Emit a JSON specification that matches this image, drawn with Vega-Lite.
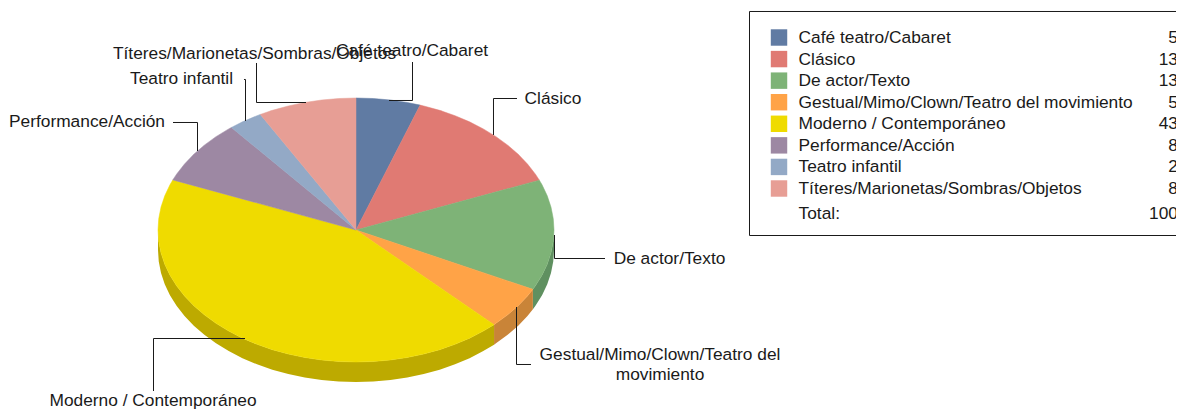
{
"$schema":"https://vega.github.io/schema/vega-lite/v6.json",
"width":1194,"height":410,
"autosize":{"type":"fit","contains":"padding"},
"padding":{"left":0,"top":0,"right":18,"bottom":0},
"background":"white",
"config":{"view":{"stroke":null},"text":{"font":"Liberation Sans","fontSize":17.33,"color":"#1a1a1a","dy":1}},
"datasets":{
"slices":[
{"name":"Café teatro/Cabaret","pct":5},
{"name":"Clásico","pct":13},
{"name":"De actor/Texto","pct":13},
{"name":"Gestual/Mimo/Clown/Teatro del movimiento","pct":5},
{"name":"Moderno / Contemporáneo","pct":43},
{"name":"Performance/Acción","pct":8},
{"name":"Teatro infantil","pct":2},
{"name":"Títeres/Marionetas/Sombras/Objetos","pct":8}
],
"rim":[
{"s":"De actor/Texto","x":1,"y":0,"y2":-0.1515},{"s":"De actor/Texto","x":0.9962,"y":-0.0872,"y2":-0.2387},{"s":"De actor/Texto","x":0.9848,"y":-0.1736,"y2":-0.3251},{"s":"De actor/Texto","x":0.9659,"y":-0.2588,"y2":-0.4103},{"s":"De actor/Texto","x":0.9397,"y":-0.342,"y2":-0.4935},{"s":"De actor/Texto","x":0.9063,"y":-0.4226,"y2":-0.5741},{"s":"De actor/Texto","x":0.8934,"y":-0.4493,"y2":-0.6008},
{"s":"Gestual/Mimo/Clown/Teatro del movimiento","x":0.8934,"y":-0.4493,"y2":-0.6008},{"s":"Gestual/Mimo/Clown/Teatro del movimiento","x":0.866,"y":-0.5,"y2":-0.6515},{"s":"Gestual/Mimo/Clown/Teatro del movimiento","x":0.8192,"y":-0.5736,"y2":-0.7251},{"s":"Gestual/Mimo/Clown/Teatro del movimiento","x":0.766,"y":-0.6428,"y2":-0.7943},{"s":"Gestual/Mimo/Clown/Teatro del movimiento","x":0.7071,"y":-0.7071,"y2":-0.8586},{"s":"Gestual/Mimo/Clown/Teatro del movimiento","x":0.6972,"y":-0.7169,"y2":-0.8684},
{"s":"Moderno / Contemporáneo","x":0.6972,"y":-0.7169,"y2":-0.8684},{"s":"Moderno / Contemporáneo","x":0.6428,"y":-0.766,"y2":-0.9175},{"s":"Moderno / Contemporáneo","x":0.5736,"y":-0.8192,"y2":-0.9707},{"s":"Moderno / Contemporáneo","x":0.5,"y":-0.866,"y2":-1.0175},{"s":"Moderno / Contemporáneo","x":0.4226,"y":-0.9063,"y2":-1.0578},{"s":"Moderno / Contemporáneo","x":0.342,"y":-0.9397,"y2":-1.0912},{"s":"Moderno / Contemporáneo","x":0.2588,"y":-0.9659,"y2":-1.1174},{"s":"Moderno / Contemporáneo","x":0.1736,"y":-0.9848,"y2":-1.1363},{"s":"Moderno / Contemporáneo","x":0.0872,"y":-0.9962,"y2":-1.1477},{"s":"Moderno / Contemporáneo","x":0,"y":-1,"y2":-1.1515},{"s":"Moderno / Contemporáneo","x":-0.0872,"y":-0.9962,"y2":-1.1477},{"s":"Moderno / Contemporáneo","x":-0.1736,"y":-0.9848,"y2":-1.1363},{"s":"Moderno / Contemporáneo","x":-0.2588,"y":-0.9659,"y2":-1.1174},{"s":"Moderno / Contemporáneo","x":-0.342,"y":-0.9397,"y2":-1.0912},{"s":"Moderno / Contemporáneo","x":-0.4226,"y":-0.9063,"y2":-1.0578},{"s":"Moderno / Contemporáneo","x":-0.5,"y":-0.866,"y2":-1.0175},{"s":"Moderno / Contemporáneo","x":-0.5736,"y":-0.8192,"y2":-0.9707},{"s":"Moderno / Contemporáneo","x":-0.6428,"y":-0.766,"y2":-0.9175},{"s":"Moderno / Contemporáneo","x":-0.7071,"y":-0.7071,"y2":-0.8586},{"s":"Moderno / Contemporáneo","x":-0.766,"y":-0.6428,"y2":-0.7943},{"s":"Moderno / Contemporáneo","x":-0.8192,"y":-0.5736,"y2":-0.7251},{"s":"Moderno / Contemporáneo","x":-0.866,"y":-0.5,"y2":-0.6515},{"s":"Moderno / Contemporáneo","x":-0.9063,"y":-0.4226,"y2":-0.5741},{"s":"Moderno / Contemporáneo","x":-0.9397,"y":-0.342,"y2":-0.4935},{"s":"Moderno / Contemporáneo","x":-0.9659,"y":-0.2588,"y2":-0.4103},{"s":"Moderno / Contemporáneo","x":-0.9848,"y":-0.1736,"y2":-0.3251},{"s":"Moderno / Contemporáneo","x":-0.9962,"y":-0.0872,"y2":-0.2387},{"s":"Moderno / Contemporáneo","x":-1,"y":0,"y2":-0.1515}
],
"outline":[
{"s":"Café teatro/Cabaret","i":0,"x":0,"y":0},{"s":"Café teatro/Cabaret","i":1,"x":0,"y":1},{"s":"Café teatro/Cabaret","i":2,"x":0.0872,"y":0.9962},{"s":"Café teatro/Cabaret","i":3,"x":0.1736,"y":0.9848},{"s":"Café teatro/Cabaret","i":4,"x":0.2588,"y":0.9659},{"s":"Café teatro/Cabaret","i":5,"x":0.3239,"y":0.9461},{"s":"Café teatro/Cabaret","i":6,"x":0,"y":0},
{"s":"Clásico","i":0,"x":0,"y":0},{"s":"Clásico","i":1,"x":0.3239,"y":0.9461},{"s":"Clásico","i":2,"x":0.342,"y":0.9397},{"s":"Clásico","i":3,"x":0.4226,"y":0.9063},{"s":"Clásico","i":4,"x":0.5,"y":0.866},{"s":"Clásico","i":5,"x":0.5736,"y":0.8192},{"s":"Clásico","i":6,"x":0.6428,"y":0.766},{"s":"Clásico","i":7,"x":0.7071,"y":0.7071},{"s":"Clásico","i":8,"x":0.766,"y":0.6428},{"s":"Clásico","i":9,"x":0.8192,"y":0.5736},{"s":"Clásico","i":10,"x":0.866,"y":0.5},{"s":"Clásico","i":11,"x":0.9063,"y":0.4226},{"s":"Clásico","i":12,"x":0.9259,"y":0.3778},{"s":"Clásico","i":13,"x":0,"y":0},
{"s":"De actor/Texto","i":0,"x":0,"y":0},{"s":"De actor/Texto","i":1,"x":0.9259,"y":0.3778},{"s":"De actor/Texto","i":2,"x":0.9397,"y":0.342},{"s":"De actor/Texto","i":3,"x":0.9659,"y":0.2588},{"s":"De actor/Texto","i":4,"x":0.9848,"y":0.1736},{"s":"De actor/Texto","i":5,"x":0.9962,"y":0.0872},{"s":"De actor/Texto","i":6,"x":1,"y":0},{"s":"De actor/Texto","i":7,"x":0.9962,"y":-0.0872},{"s":"De actor/Texto","i":8,"x":0.9848,"y":-0.1736},{"s":"De actor/Texto","i":9,"x":0.9659,"y":-0.2588},{"s":"De actor/Texto","i":10,"x":0.9397,"y":-0.342},{"s":"De actor/Texto","i":11,"x":0.9063,"y":-0.4226},{"s":"De actor/Texto","i":12,"x":0.8934,"y":-0.4493},{"s":"De actor/Texto","i":13,"x":0,"y":0},
{"s":"Gestual/Mimo/Clown/Teatro del movimiento","i":0,"x":0,"y":0},{"s":"Gestual/Mimo/Clown/Teatro del movimiento","i":1,"x":0.8934,"y":-0.4493},{"s":"Gestual/Mimo/Clown/Teatro del movimiento","i":2,"x":0.866,"y":-0.5},{"s":"Gestual/Mimo/Clown/Teatro del movimiento","i":3,"x":0.8192,"y":-0.5736},{"s":"Gestual/Mimo/Clown/Teatro del movimiento","i":4,"x":0.766,"y":-0.6428},{"s":"Gestual/Mimo/Clown/Teatro del movimiento","i":5,"x":0.7071,"y":-0.7071},{"s":"Gestual/Mimo/Clown/Teatro del movimiento","i":6,"x":0.6972,"y":-0.7169},{"s":"Gestual/Mimo/Clown/Teatro del movimiento","i":7,"x":0,"y":0},
{"s":"Moderno / Contemporáneo","i":0,"x":0,"y":0},{"s":"Moderno / Contemporáneo","i":1,"x":0.6972,"y":-0.7169},{"s":"Moderno / Contemporáneo","i":2,"x":0.6428,"y":-0.766},{"s":"Moderno / Contemporáneo","i":3,"x":0.5736,"y":-0.8192},{"s":"Moderno / Contemporáneo","i":4,"x":0.5,"y":-0.866},{"s":"Moderno / Contemporáneo","i":5,"x":0.4226,"y":-0.9063},{"s":"Moderno / Contemporáneo","i":6,"x":0.342,"y":-0.9397},{"s":"Moderno / Contemporáneo","i":7,"x":0.2588,"y":-0.9659},{"s":"Moderno / Contemporáneo","i":8,"x":0.1736,"y":-0.9848},{"s":"Moderno / Contemporáneo","i":9,"x":0.0872,"y":-0.9962},{"s":"Moderno / Contemporáneo","i":10,"x":0,"y":-1},{"s":"Moderno / Contemporáneo","i":11,"x":-0.0872,"y":-0.9962},{"s":"Moderno / Contemporáneo","i":12,"x":-0.1736,"y":-0.9848},{"s":"Moderno / Contemporáneo","i":13,"x":-0.2588,"y":-0.9659},{"s":"Moderno / Contemporáneo","i":14,"x":-0.342,"y":-0.9397},{"s":"Moderno / Contemporáneo","i":15,"x":-0.4226,"y":-0.9063},{"s":"Moderno / Contemporáneo","i":16,"x":-0.5,"y":-0.866},{"s":"Moderno / Contemporáneo","i":17,"x":-0.5736,"y":-0.8192},{"s":"Moderno / Contemporáneo","i":18,"x":-0.6428,"y":-0.766},{"s":"Moderno / Contemporáneo","i":19,"x":-0.7071,"y":-0.7071},{"s":"Moderno / Contemporáneo","i":20,"x":-0.766,"y":-0.6428},{"s":"Moderno / Contemporáneo","i":21,"x":-0.8192,"y":-0.5736},{"s":"Moderno / Contemporáneo","i":22,"x":-0.866,"y":-0.5},{"s":"Moderno / Contemporáneo","i":23,"x":-0.9063,"y":-0.4226},{"s":"Moderno / Contemporáneo","i":24,"x":-0.9397,"y":-0.342},{"s":"Moderno / Contemporáneo","i":25,"x":-0.9659,"y":-0.2588},{"s":"Moderno / Contemporáneo","i":26,"x":-0.9848,"y":-0.1736},{"s":"Moderno / Contemporáneo","i":27,"x":-0.9962,"y":-0.0872},{"s":"Moderno / Contemporáneo","i":28,"x":-1,"y":0},{"s":"Moderno / Contemporáneo","i":29,"x":-0.9962,"y":0.0872},{"s":"Moderno / Contemporáneo","i":30,"x":-0.9848,"y":0.1736},{"s":"Moderno / Contemporáneo","i":31,"x":-0.9659,"y":0.2588},{"s":"Moderno / Contemporáneo","i":32,"x":-0.9397,"y":0.342},{"s":"Moderno / Contemporáneo","i":33,"x":-0.9252,"y":0.3795},{"s":"Moderno / Contemporáneo","i":34,"x":0,"y":0},
{"s":"Performance/Acción","i":0,"x":0,"y":0},{"s":"Performance/Acción","i":1,"x":-0.9252,"y":0.3795},{"s":"Performance/Acción","i":2,"x":-0.9063,"y":0.4226},{"s":"Performance/Acción","i":3,"x":-0.866,"y":0.5},{"s":"Performance/Acción","i":4,"x":-0.8192,"y":0.5736},{"s":"Performance/Acción","i":5,"x":-0.766,"y":0.6428},{"s":"Performance/Acción","i":6,"x":-0.7071,"y":0.7071},{"s":"Performance/Acción","i":7,"x":-0.6428,"y":0.766},{"s":"Performance/Acción","i":8,"x":-0.6293,"y":0.7771},{"s":"Performance/Acción","i":9,"x":0,"y":0},
{"s":"Teatro infantil","i":0,"x":0,"y":0},{"s":"Teatro infantil","i":1,"x":-0.6293,"y":0.7771},{"s":"Teatro infantil","i":2,"x":-0.5736,"y":0.8192},{"s":"Teatro infantil","i":3,"x":-0.5,"y":0.866},{"s":"Teatro infantil","i":4,"x":-0.4833,"y":0.8755},{"s":"Teatro infantil","i":5,"x":0,"y":0},
{"s":"Títeres/Marionetas/Sombras/Objetos","i":0,"x":0,"y":0},{"s":"Títeres/Marionetas/Sombras/Objetos","i":1,"x":-0.4833,"y":0.8755},{"s":"Títeres/Marionetas/Sombras/Objetos","i":2,"x":-0.4226,"y":0.9063},{"s":"Títeres/Marionetas/Sombras/Objetos","i":3,"x":-0.342,"y":0.9397},{"s":"Títeres/Marionetas/Sombras/Objetos","i":4,"x":-0.2588,"y":0.9659},{"s":"Títeres/Marionetas/Sombras/Objetos","i":5,"x":-0.1736,"y":0.9848},{"s":"Títeres/Marionetas/Sombras/Objetos","i":6,"x":-0.0872,"y":0.9962},{"s":"Títeres/Marionetas/Sombras/Objetos","i":7,"x":0,"y":1},{"s":"Títeres/Marionetas/Sombras/Objetos","i":8,"x":0,"y":0}
],
"leaders":[
{"s":"Café","i":0,"x":0.2854,"y":1.2727},{"s":"Café","i":1,"x":0.2854,"y":0.9811},{"s":"Café","i":2,"x":0.1667,"y":0.9811},
{"s":"Clásico","i":0,"x":0.8131,"y":0.9962},{"s":"Clásico","i":1,"x":0.6944,"y":0.9962},{"s":"Clásico","i":2,"x":0.6944,"y":0.7197},
{"s":"De actor","i":0,"x":1.0025,"y":-0.0379},{"s":"De actor","i":1,"x":1.0025,"y":-0.2159},{"s":"De actor","i":2,"x":1.2576,"y":-0.2159},
{"s":"Gestual","i":0,"x":0.8106,"y":-0.5833},{"s":"Gestual","i":1,"x":0.8106,"y":-1.0189},{"s":"Gestual","i":2,"x":0.8838,"y":-1.0189},
{"s":"Moderno","i":0,"x":-0.5606,"y":-0.822},{"s":"Moderno","i":1,"x":-1.0227,"y":-0.822},{"s":"Moderno","i":2,"x":-1.0227,"y":-1.2197},
{"s":"Performance","i":0,"x":-0.9242,"y":0.8144},{"s":"Performance","i":1,"x":-0.8005,"y":0.8144},{"s":"Performance","i":2,"x":-0.8005,"y":0.5985},
{"s":"Teatro","i":0,"x":-0.5657,"y":1.1402},{"s":"Teatro","i":1,"x":-0.5581,"y":1.1402},{"s":"Teatro","i":2,"x":-0.5581,"y":0.8258},
{"s":"Títeres","i":0,"x":-0.5025,"y":1.2652},{"s":"Títeres","i":1,"x":-0.5025,"y":0.9659},{"s":"Títeres","i":2,"x":-0.2525,"y":0.9659}
],
"labels":[
{"t":"Títeres/Marionetas/Sombras/Objetos","x":-0.5126,"y":1.3409},
{"t":"Café teatro/Cabaret","x":0.2828,"y":1.3636},
{"t":"Clásico","x":0.9949,"y":1.0},
{"t":"De actor/Texto","x":1.5833,"y":-0.2121},
{"t":"Gestual/Mimo/Clown/Teatro del\nmovimiento","x":1.5354,"y":-0.9394},
{"t":"Moderno / Contemporáneo","x":-1.0253,"y":-1.2879},
{"t":"Performance/Acción","x":-1.3586,"y":0.8258},
{"t":"Teatro infantil","x":-0.8813,"y":1.1515}
],
"total":[{"name":"Total:","pct":100}]
},
"resolve":{"scale":{"y":"independent","fill":"independent","stroke":"independent"}},
"layer":[
{"data":{"name":"rim"},
 "mark":{"type":"area","strokeWidth":0.5},
 "encoding":{
  "x":{"field":"x","type":"quantitative","axis":null,"scale":{"domain":[-1.798,4.1414],"nice":false,"zero":false}},
  "y":{"field":"y","type":"quantitative","axis":null,"stack":null,"scale":{"domain":[-1.3636,1.7424],"nice":false,"zero":false}},
  "y2":{"field":"y2"},
  "fill":{"field":"s","type":"nominal","legend":null,"scale":{"domain":["De actor/Texto","Gestual/Mimo/Clown/Teatro del movimiento","Moderno / Contemporáneo"],"range":["#5F9060","#C98438","#BDAA00"]}}
 }},
{"data":{"name":"outline"},
 "mark":{"type":"line","strokeWidth":0.5},
 "encoding":{
  "x":{"field":"x","type":"quantitative","axis":null},
  "y":{"field":"y","type":"quantitative","axis":null,"scale":{"domain":[-1.3636,1.7424],"nice":false,"zero":false}},
  "order":{"field":"i"},
  "fill":{"field":"s","type":"nominal","legend":null,"scale":{"domain":["Café teatro/Cabaret","Clásico","De actor/Texto","Gestual/Mimo/Clown/Teatro del movimiento","Moderno / Contemporáneo","Performance/Acción","Teatro infantil","Títeres/Marionetas/Sombras/Objetos"],"range":["#607BA3","#E07A73","#7EB377","#FFA347","#EFDB00","#9D88A3","#93A9C6","#E79E95"]}},
  "stroke":{"field":"s","type":"nominal","legend":null,"scale":{"domain":["Café teatro/Cabaret","Clásico","De actor/Texto","Gestual/Mimo/Clown/Teatro del movimiento","Moderno / Contemporáneo","Performance/Acción","Teatro infantil","Títeres/Marionetas/Sombras/Objetos"],"range":["#607BA3","#E07A73","#7EB377","#FFA347","#EFDB00","#9D88A3","#93A9C6","#E79E95"]}}
 }},
{"data":{"name":"leaders"},
 "mark":{"type":"line","stroke":"#1a1a1a","strokeWidth":1},
 "encoding":{
  "x":{"field":"x","type":"quantitative","axis":null},
  "y":{"field":"y","type":"quantitative","axis":null,"scale":{"domain":[-1.3636,1.7424],"nice":false,"zero":false}},
  "order":{"field":"i"},
  "detail":{"field":"s"}
 }},
{"data":{"name":"labels"},
 "mark":{"type":"text","align":"center","baseline":"middle","lineBreak":"\n","lineHeight":20},
 "encoding":{
  "x":{"field":"x","type":"quantitative","axis":null},
  "y":{"field":"y","type":"quantitative","axis":null,"scale":{"domain":[-1.3636,1.7424],"nice":false,"zero":false}},
  "text":{"field":"t"}
 }},
{"data":{"values":[{"k":"box"}]},
 "mark":{"type":"rect","fill":"white","stroke":"#1a1a1a","strokeWidth":1,"clip":true},
 "encoding":{
  "x":{"datum":1.9874,"type":"quantitative","axis":null},
  "x2":{"datum":5},
  "y":{"datum":1.6553,"type":"quantitative","axis":null,"scale":{"domain":[-1.3636,1.7424],"nice":false,"zero":false}},
  "y2":{"datum":-0.0417}
 }},
{"data":{"name":"slices"},
 "mark":{"type":"point","shape":"square","filled":true,"size":270,"opacity":1},
 "encoding":{
  "x":{"datum":2.1364,"type":"quantitative","axis":null},
  "y":{"field":"name","type":"nominal","axis":null,"sort":null,"scale":{"type":"point","range":[37.5,188.5],"padding":0}},
  "fill":{"field":"name","type":"nominal","legend":null,"scale":{"domain":["Café teatro/Cabaret","Clásico","De actor/Texto","Gestual/Mimo/Clown/Teatro del movimiento","Moderno / Contemporáneo","Performance/Acción","Teatro infantil","Títeres/Marionetas/Sombras/Objetos"],"range":["#607BA3","#E07A73","#7EB377","#FFA347","#EFDB00","#9D88A3","#93A9C6","#E79E95"]}}
 }},
{"data":{"name":"slices"},
 "mark":{"type":"text","align":"left","baseline":"middle"},
 "encoding":{
  "x":{"datum":2.235,"type":"quantitative","axis":null},
  "y":{"field":"name","type":"nominal","axis":null,"sort":null,"scale":{"type":"point","range":[37,188],"padding":0}},
  "text":{"field":"name"}
 }},
{"data":{"name":"slices"},
 "mark":{"type":"text","align":"right","baseline":"middle","clip":true},
 "encoding":{
  "x":{"datum":4.1515,"type":"quantitative","axis":null},
  "y":{"field":"name","type":"nominal","axis":null,"sort":null,"scale":{"type":"point","range":[37,188],"padding":0}},
  "text":{"field":"pct"}
 }},
{"data":{"name":"total"},
 "mark":{"type":"text","align":"left","baseline":"middle"},
 "encoding":{
  "x":{"datum":2.235,"type":"quantitative","axis":null},
  "y":{"datum":0.129,"type":"quantitative","axis":null,"scale":{"domain":[-1.3636,1.7424],"nice":false,"zero":false}},
  "text":{"field":"name"}
 }},
{"data":{"name":"total"},
 "mark":{"type":"text","align":"right","baseline":"middle","clip":true},
 "encoding":{
  "x":{"datum":4.1515,"type":"quantitative","axis":null},
  "y":{"datum":0.129,"type":"quantitative","axis":null,"scale":{"domain":[-1.3636,1.7424],"nice":false,"zero":false}},
  "text":{"field":"pct"}
 }}
]
}
